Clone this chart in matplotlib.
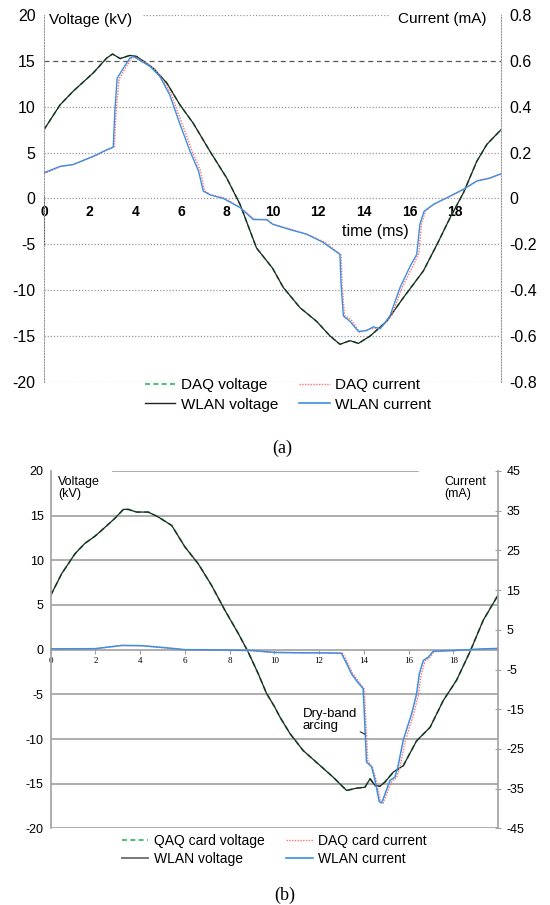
import matplotlib
matplotlib.use('Agg')
import matplotlib.pyplot as plt
from matplotlib.lines import Line2D

plt.rcParams['font.family'] = ['Liberation Sans', 'DejaVu Sans']

# ---------- panel (a): low-current record ----------
# WLAN voltage (kV) vs time (ms)
t_volt_a = [0.0, 0.70, 1.28, 2.16, 2.74, 3.0, 3.33, 3.76, 4.06, 4.78, 5.37, 5.95, 6.53,
            7.26, 7.99, 8.58, 9.3, 10.0, 10.47, 11.2, 11.93, 12.52, 12.95, 13.39, 13.76,
            14.27, 14.99, 15.73, 16.6, 17.2, 17.77, 18.35, 18.94, 19.38, 20.0]
wlan_volt_a = [7.5, 10.2, 11.7, 13.7, 15.3, 15.75, 15.25, 15.6, 15.47, 14.2, 12.6, 10.2, 8.2,
               5.15, 2.25, -0.65, -5.4, -7.6, -9.7, -11.9, -13.4, -15.0, -15.9, -15.5, -15.8,
               -15.0, -13.4, -10.8, -7.9, -5.0, -2.1, 0.6, 4.06, 5.9, 7.5]
# the DAQ card logged the same voltage samples
daq_volt_a = list(wlan_volt_a)

# WLAN current (mA)
t_wlan_cur_a = [0.0, 0.70, 1.28, 2.16, 2.74, 3.03, 3.10, 3.20, 3.47, 3.76, 3.90, 4.64, 5.07,
                5.50, 5.95, 6.39, 6.76, 6.97, 7.26, 7.85, 8.58, 9.16, 9.74, 10.0, 10.77, 11.5,
                12.22, 12.95, 13.0, 13.1, 13.39, 13.76, 14.12, 14.41, 14.71, 15.14, 15.58,
                16.02, 16.31, 16.45, 16.63, 17.04, 17.77, 18.35, 18.94, 19.5, 20.0]
wlan_cur_a = [0.112, 0.140, 0.148, 0.184, 0.212, 0.224, 0.380, 0.524, 0.568, 0.612, 0.620,
              0.576, 0.532, 0.452, 0.324, 0.206, 0.120, 0.032, 0.016, 0.0, -0.040, -0.092,
              -0.092, -0.112, -0.136, -0.156, -0.192, -0.244, -0.376, -0.512, -0.536, -0.580,
              -0.576, -0.560, -0.568, -0.512, -0.388, -0.296, -0.244, -0.112, -0.056, -0.026,
              0.010, 0.040, 0.076, 0.088, 0.108]

# DAQ current (mA)
t_daq_cur_a = [0.0, 0.70, 1.28, 2.16, 2.74, 3.08, 3.15, 3.28, 3.55, 3.85, 3.98, 4.70, 5.12,
               5.58, 6.05, 6.48, 6.85, 7.02, 7.30, 7.90, 8.60, 9.20, 9.76, 10.0, 10.8, 11.55,
               12.28, 13.0, 13.05, 13.15, 13.45, 13.82, 14.15, 14.45, 14.75, 15.22, 15.66,
               16.12, 16.40, 16.52, 16.70, 17.08, 17.8, 18.38, 18.96, 19.5, 20.0]
daq_cur_a = [0.108, 0.138, 0.148, 0.182, 0.210, 0.226, 0.370, 0.520, 0.566, 0.614, 0.618,
             0.576, 0.530, 0.450, 0.324, 0.206, 0.120, 0.034, 0.016, 0.002, -0.040, -0.090,
             -0.094, -0.112, -0.134, -0.158, -0.190, -0.246, -0.380, -0.510, -0.530, -0.584,
             -0.572, -0.566, -0.564, -0.510, -0.390, -0.300, -0.240, -0.110, -0.054, -0.024,
             0.012, 0.040, 0.078, 0.090, 0.106]

# ---------- panel (b): dry-band arcing record ----------
t_volt_b = [0.0, 0.49, 1.09, 1.53, 1.98, 2.43, 2.87, 3.25, 3.47, 3.84, 4.36, 4.81, 5.41, 6.0,
            6.6, 7.19, 7.79, 8.39, 8.83, 9.28, 9.65, 10.0, 10.25, 10.7, 11.29, 12.04, 12.64,
            13.23, 13.68, 14.05, 14.28, 14.5, 14.72, 14.95, 15.32, 15.76, 16.36, 16.96,
            17.55, 18.15, 18.74, 19.34, 20.0]
wlan_volt_b = [6.08, 8.5, 10.75, 11.9, 12.7, 13.7, 14.7, 15.7, 15.7, 15.4, 15.4, 14.85, 13.9,
               11.5, 9.6, 7.2, 4.4, 1.8, -0.27, -2.7, -4.9, -6.35, -7.55, -9.4, -11.3, -12.96,
               -14.3, -15.76, -15.5, -15.4, -14.45, -15.2, -15.3, -14.8, -13.7, -13.0, -10.2,
               -8.7, -5.7, -3.4, -0.27, 3.3, 6.1]
daq_volt_b = list(wlan_volt_b)

t_wlan_cur_b = [0.0, 1.98, 3.17, 4.07, 5.11, 6.0, 8.09, 8.98, 10.0, 11.29, 12.04, 13.0, 13.23,
                13.45, 13.75, 13.97, 14.05, 14.12, 14.35, 14.5, 14.69, 14.8, 14.95, 15.17,
                15.39, 15.54, 15.76, 16.14, 16.36, 16.48, 16.66, 16.88, 17.1, 18.0, 18.74,
                19.34, 20.0]
wlan_cur_b = [0.2, 0.25, 1.05, 1.0, 0.5, 0.0, -0.1, -0.2, -0.7, -0.8, -0.8, -0.9, -3.5, -6.1,
              -8.4, -9.8, -19.5, -28.3, -29.5, -32.9, -38.3, -38.6, -36.3, -32.9, -32.1, -29.1,
              -22.8, -16.1, -11.1, -6.1, -2.7, -1.9, -0.4, -0.2, 0.0, 0.2, 0.3]

t_daq_cur_b = [0.0, 1.98, 3.2, 4.1, 5.15, 6.05, 8.1, 9.0, 10.0, 11.3, 12.05, 13.05, 13.28,
               13.5, 13.8, 14.02, 14.1, 14.18, 14.4, 14.56, 14.76, 14.86, 15.0, 15.24, 15.46,
               15.62, 15.85, 16.22, 16.44, 16.56, 16.74, 16.95, 17.15, 18.0, 18.74, 19.34, 20.0]
daq_cur_b = [0.1, 0.2, 1.1, 1.0, 0.4, -0.1, -0.2, -0.3, -0.7, -0.8, -0.8, -0.9, -3.4, -6.0,
             -8.3, -9.9, -19.3, -28.0, -29.8, -33.2, -38.5, -38.7, -36.6, -33.2, -32.3, -29.4,
             -23.0, -16.4, -11.4, -6.3, -2.9, -2.0, -0.5, -0.3, 0.0, 0.2, 0.3]

time_ticks = [0, 2, 4, 6, 8, 10, 12, 14, 16, 18]
volt_ticks = [20, 15, 10, 5, 0, -5, -10, -15, -20]
cur_ticks_a = [0.8, 0.6, 0.4, 0.2, 0, -0.2, -0.4, -0.6, -0.8]
cur_labels_a = ['0.8', '0.6', '0.4', '0.2', '0', '-0.2', '-0.4', '-0.6', '-0.8']
cur_ticks_b = [45, 35, 25, 15, 5, -5, -15, -25, -35, -45]

GREEN = '#2fb35a'
BLACK = '#222222'
RED = '#ff6f6f'
BLUE = '#3d8fe0'

fig = plt.figure(figsize=(5.5, 9.05), dpi=100)

# ======================= (a) =======================
ax1 = fig.add_axes([0.08, 0.578, 0.831, 0.4054])
ax1.set_xlim(0, 20)
ax1.set_ylim(-20, 20)

for v in volt_ticks:
    if v == 15:
        ax1.axhline(v, color='#555555', lw=0.9, ls=(0, (4, 3)), zorder=0)
    elif v == 20:
        ax1.axhline(v, xmin=0.217, xmax=0.753, color='#999999', lw=0.9, ls=(0, (1, 1.5)), zorder=0)
    else:
        ax1.axhline(v, color='#999999', lw=0.9, ls=(0, (1, 1.5)), zorder=0)
ax1.axvline(0, ymin=0.375, ymax=0.5, color='black', lw=1.3)

ax1.plot(t_volt_a, daq_volt_a, color=GREEN, lw=1.2, ls=(0, (3, 2)))
ax1.plot(t_volt_a, wlan_volt_a, color=BLACK, lw=0.9)

for side in ['top', 'right']:
    ax1.spines[side].set_visible(False)
ax1.spines['left'].set_color('#999999')
ax1.spines['left'].set_linestyle((0, (1, 1.5)))
ax1.spines['bottom'].set_position(('data', 0))
ax1.spines['bottom'].set_color('none')

ax1.set_yticks(volt_ticks)
ax1.set_yticklabels([str(v) for v in volt_ticks])
ax1.tick_params(axis='y', length=0, pad=6, labelsize=11.5)
ax1.set_xticks(time_ticks)
ax1.tick_params(axis='x', length=0, pad=5, labelsize=10)
for lbl in ax1.get_xticklabels():
    lbl.set_fontweight('bold')

ax1r = ax1.twinx()
ax1r.set_ylim(-0.8, 0.8)
ax1r.plot(t_daq_cur_a, daq_cur_a, color=RED, lw=1.0, ls=(0, (1, 1)))
ax1r.plot(t_wlan_cur_a, wlan_cur_a, color=BLUE, lw=1.0)
for side in ['top', 'left', 'bottom']:
    ax1r.spines[side].set_visible(False)
ax1r.spines['right'].set_color('#999999')
ax1r.spines['right'].set_linestyle((0, (1, 1.5)))
ax1r.set_yticks(cur_ticks_a)
ax1r.set_yticklabels(cur_labels_a)
ax1r.tick_params(axis='y', length=0, pad=6, labelsize=11.5)

ax1.text(0.011, 0.986, 'Voltage (kV)', transform=ax1.transAxes, fontsize=11,
         ha='left', va='center')
ax1.text(0.968, 0.99, 'Current (mA)', transform=ax1.transAxes, fontsize=11,
         ha='right', va='center')
ax1.text(0.724, 0.409, 'time (ms)', transform=ax1.transAxes, fontsize=11.5,
         ha='center', va='center')

handles_a = [Line2D([], [], color=GREEN, lw=1.2, ls=(0, (3, 2))),
             Line2D([], [], color=BLACK, lw=1.0),
             Line2D([], [], color=RED, lw=1.0, ls=(0, (1, 1))),
             Line2D([], [], color=BLUE, lw=1.2)]
fig.legend(handles_a, ['DAQ voltage', 'WLAN voltage', 'DAQ current', 'WLAN current'],
           ncol=2, loc='upper left', bbox_to_anchor=(0.263, 0.582), frameon=False,
           fontsize=11, handlelength=2.0, handletextpad=0.35, columnspacing=1.4,
           labelspacing=0.35, borderaxespad=0, borderpad=0)

fig.text(0.513, 1 - 448 / 905, '(a)', fontsize=13, family='Liberation Serif',
         ha='center', va='center')

# ======================= (b) =======================
ax2 = fig.add_axes([0.0922, 0.0847, 0.8133, 0.3949])
ax2.set_xlim(0, 20)
ax2.set_ylim(-20, 20)

for v in volt_ticks:
    if v == 20:
        ax2.axhline(v, xmin=0.139, xmax=0.821, color='#a0a0a0', lw=1.2, zorder=0)
    elif v != 0:
        ax2.axhline(v, color='#a0a0a0', lw=1.2, zorder=0)

ax2.plot(t_volt_b, daq_volt_b, color=GREEN, lw=1.3, ls=(0, (3, 2)))
ax2.plot(t_volt_b, wlan_volt_b, color=BLACK, lw=0.9)

ax2.spines['top'].set_visible(False)
ax2.spines['right'].set_visible(False)
ax2.spines['left'].set_color('#a0a0a0')
ax2.spines['left'].set_linewidth(1.2)
ax2.spines['bottom'].set_position(('data', 0))
ax2.spines['bottom'].set_color('#a0a0a0')
ax2.spines['bottom'].set_linewidth(1.2)

ax2.set_yticks(volt_ticks)
ax2.set_yticklabels([str(v) for v in volt_ticks])
ax2.tick_params(axis='y', length=0, pad=5, labelsize=9)
ax2.set_xticks(time_ticks)
ax2.tick_params(axis='x', length=3, width=0.8, color='#a0a0a0', pad=2, labelsize=6.5)
for lbl in ax2.get_xticklabels():
    lbl.set_family('Liberation Serif')

ax2r = ax2.twinx()
ax2r.set_ylim(-45, 45)
ax2r.plot(t_daq_cur_b, daq_cur_b, color=RED, lw=1.0, ls=(0, (1, 1)))
ax2r.plot(t_wlan_cur_b, wlan_cur_b, color=BLUE, lw=1.1)
for side in ['top', 'left', 'bottom']:
    ax2r.spines[side].set_visible(False)
ax2r.spines['right'].set_color('#a0a0a0')
ax2r.spines['right'].set_linewidth(1.2)
ax2r.set_yticks(cur_ticks_b)
ax2r.set_yticklabels([str(v) for v in cur_ticks_b])
ax2r.tick_params(axis='y', direction='inout', length=4, width=0.8, color='#a0a0a0',
                 pad=4, labelsize=9)

ax2.text(0.017, 0.985, 'Voltage\n(kV)', transform=ax2.transAxes, fontsize=9,
         ha='left', va='top', linespacing=1.0)
ax2.text(0.88, 0.985, 'Current\n(mA)', transform=ax2.transAxes, fontsize=9,
         ha='left', va='top', linespacing=1.0)

ax2r.annotate('Dry-band\narcing', xy=(14.05, -21.3), xytext=(11.28, -17.8),
              fontsize=9.5, ha='left', va='center', linespacing=1.0,
              arrowprops=dict(arrowstyle='-', color=BLACK, lw=0.8,
                              shrinkA=0, shrinkB=0, relpos=(0.9, 0.2)))

handles_b = [Line2D([], [], color=GREEN, lw=1.2, ls=(0, (3, 2))),
             Line2D([], [], color='#777777', lw=1.4),
             Line2D([], [], color=RED, lw=1.0, ls=(0, (1, 1))),
             Line2D([], [], color=BLUE, lw=1.2)]
fig.legend(handles_b, ['QAQ card voltage', 'WLAN voltage', 'DAQ card current', 'WLAN current'],
           ncol=2, loc='upper left', bbox_to_anchor=(0.222, 1 - 834 / 905), frameon=False,
           fontsize=10, handlelength=1.9, handletextpad=0.4, columnspacing=1.55,
           labelspacing=0.3, borderaxespad=0, borderpad=0)

fig.text(0.518, 1 - 895 / 905, '(b)', fontsize=13, family='Liberation Serif',
         ha='center', va='center')

fig.savefig('out.png', dpi=100)
